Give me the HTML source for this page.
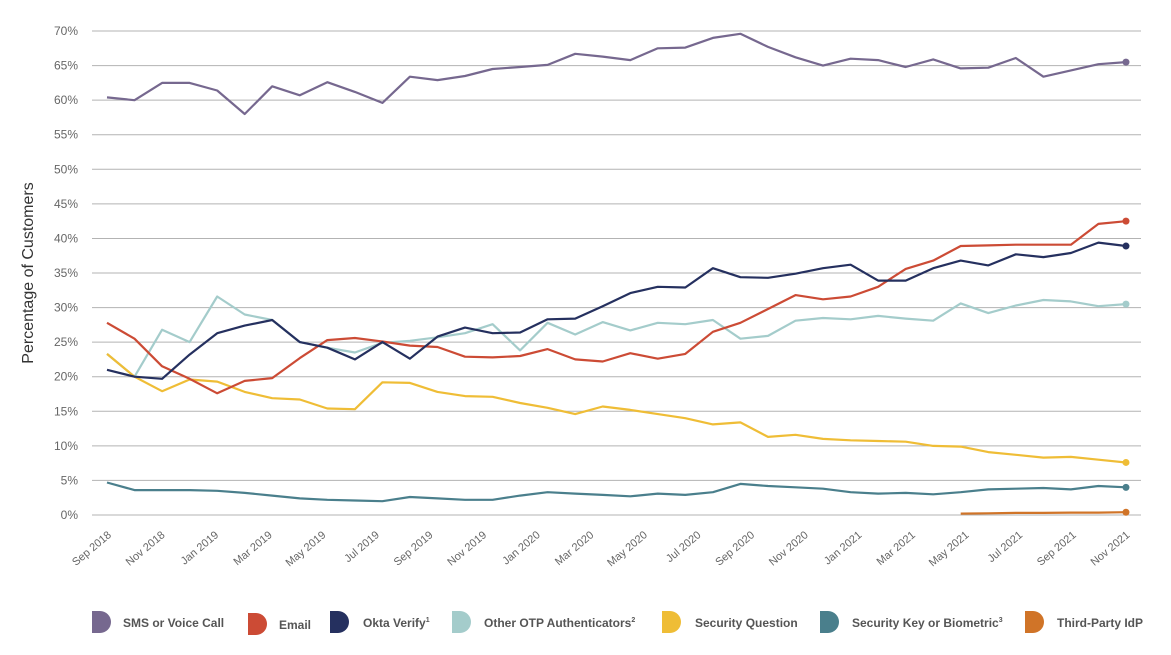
<!DOCTYPE html>
<html><head><meta charset="utf-8"><style>
body{margin:0;background:#fff;}
svg{display:block;font-family:"Liberation Sans",sans-serif;}
</style></head><body>
<svg id="c" width="1171" height="655" viewBox="0 0 1171 655" xmlns="http://www.w3.org/2000/svg">
<g id="grid" stroke="#b3b3b3" stroke-width="1"></g>
<g id="ylab" font-size="12" fill="#666" text-anchor="end"></g>
<text transform="translate(33,273) rotate(-90)" font-size="16" fill="#333" text-anchor="middle">Percentage of Customers</text>
<g id="xlab" font-size="11" fill="#666" text-anchor="end"></g>
<g id="series" fill="none" stroke-width="2.2" stroke-linejoin="round"></g>
<g font-size="12" font-weight="bold" fill="#555">
<path d="M92,611 h8 a11,11 0 0 1 0,22 h-8z" fill="#76688f"/><text x="123" y="627">SMS or Voice Call</text>
<path d="M248,613 h8 a11,11 0 0 1 0,22 h-8z" fill="#cc4b35"/><text x="279" y="629">Email</text>
<path d="M330,611 h8 a11,11 0 0 1 0,22 h-8z" fill="#25305f"/><text x="363" y="627">Okta Verify<tspan font-size="7" dy="-5">1</tspan></text>
<path d="M452,611 h8 a11,11 0 0 1 0,22 h-8z" fill="#a4cccb"/><text x="484" y="627">Other OTP Authenticators<tspan font-size="7" dy="-5">2</tspan></text>
<path d="M662,611 h8 a11,11 0 0 1 0,22 h-8z" fill="#efbd36"/><text x="695" y="627">Security Question</text>
<path d="M820,611 h8 a11,11 0 0 1 0,22 h-8z" fill="#4a7f8c"/><text x="852" y="627">Security Key or Biometric<tspan font-size="7" dy="-5">3</tspan></text>
<path d="M1025,611 h8 a11,11 0 0 1 0,22 h-8z" fill="#d07428"/><text x="1057" y="627">Third-Party IdP</text>
</g>
</svg>
<script>
const NS="http://www.w3.org/2000/svg";
function el(p,t,a,txt){const e=document.createElementNS(NS,t);for(const k in a)e.setAttribute(k,a[k]);if(txt)e.textContent=txt;document.getElementById(p).appendChild(e);return e;}
const Y=v=>515-v*6.914, X=i=>107+i*27.54;
for(let v=0;v<=70;v+=5){el("grid","line",{x1:92,x2:1141,y1:Y(v),y2:Y(v)});el("ylab","text",{x:78,y:Y(v)+4},v+"%");}
const m=["Sep","Nov","Jan","Mar","May","Jul"];
for(let k=0;k<20;k++){const mo=(8+2*k)%12;const yr=2018+Math.floor((8+2*k)/12);const name=["Jan","Feb","Mar","Apr","May","Jun","Jul","Aug","Sep","Oct","Nov","Dec"][mo];
const x=112+k*53.6;el("xlab","text",{x:x,y:536,transform:`rotate(-40 ${x} 536)`},name+" "+yr);}
const S=[
["#76688f",[60.4,60,62.5,62.5,61.4,58,62,60.7,62.6,61.2,59.6,63.4,62.9,63.5,64.5,64.8,65.1,66.7,66.3,65.8,67.5,67.6,69,69.6,67.7,66.2,65,66,65.8,64.8,65.9,64.6,64.7,66.1,63.4,64.3,65.2,65.5],0],
["#a4cccb",[23.3,20,26.8,25,31.6,29,28.2,25,24.2,23.5,24.9,25.2,25.7,26.3,27.6,23.8,27.8,26.1,27.9,26.7,27.8,27.6,28.2,25.5,25.9,28.1,28.5,28.3,28.8,28.4,28.1,30.6,29.2,30.3,31.1,30.9,30.2,30.5],0],
["#efbd36",[23.3,20,17.9,19.6,19.3,17.8,16.9,16.7,15.4,15.3,19.2,19.1,17.8,17.2,17.1,16.2,15.5,14.6,15.7,15.2,14.6,14,13.1,13.4,11.3,11.6,11,10.8,10.7,10.6,10,9.9,9.1,8.7,8.3,8.4,8,7.6],0],
["#cc4b35",[27.8,25.5,21.5,19.7,17.6,19.4,19.8,22.7,25.3,25.6,25.1,24.5,24.3,22.9,22.8,23,24,22.5,22.2,23.4,22.6,23.3,26.5,27.8,29.8,31.8,31.2,31.6,33,35.6,36.8,38.9,39,39.1,39.1,39.1,42.1,42.5],0],
["#25305f",[21,20,19.7,23.2,26.3,27.4,28.2,25,24.2,22.5,25,22.6,25.8,27.1,26.3,26.4,28.3,28.4,30.2,32.1,33,32.9,35.7,34.4,34.3,34.9,35.7,36.2,33.9,33.9,35.7,36.8,36.1,37.7,37.3,37.9,39.4,38.9],0],
["#4a7f8c",[4.7,3.6,3.6,3.6,3.5,3.2,2.8,2.4,2.2,2.1,2,2.6,2.4,2.2,2.2,2.8,3.3,3.1,2.9,2.7,3.1,2.9,3.3,4.5,4.2,4,3.8,3.3,3.1,3.2,3,3.3,3.7,3.8,3.9,3.7,4.2,4],0],
["#d07428",[0.2,0.25,0.3,0.3,0.35,0.35,0.4],31]
];
for(const [c,d,o] of S){el("series","polyline",{stroke:c,points:d.map((v,i)=>X(i+o).toFixed(1)+","+Y(v).toFixed(1)).join(" ")});
el("series","circle",{cx:X(d.length-1+o),cy:Y(d[d.length-1]),r:3.5,fill:c,stroke:"none"});}
</script>
</body></html>
